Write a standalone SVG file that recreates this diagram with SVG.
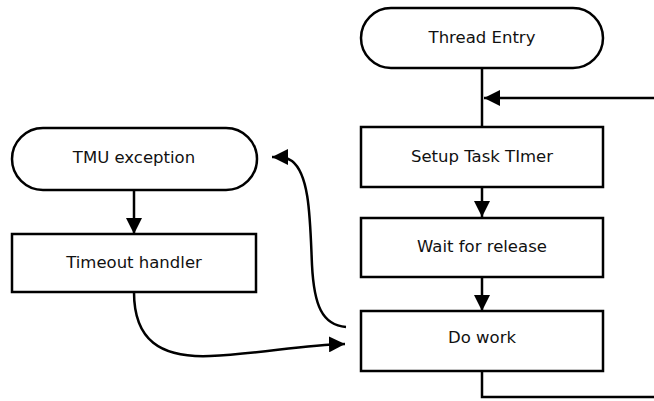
<svg xmlns="http://www.w3.org/2000/svg" width="654" height="401" viewBox="0 0 654 401">
<style>
.n{fill:#fff;stroke:#000;stroke-width:2.5}
.t{font-family:"DejaVu Sans",sans-serif;font-size:16.5px;fill:#111;text-anchor:middle;dominant-baseline:central}
.c{fill:none;stroke:#000;stroke-width:2.5}
</style>
<defs>
<marker id="b" viewBox="0 0 10 10" markerWidth="16" markerHeight="16" refX="10" refY="5" orient="auto" markerUnits="userSpaceOnUse">
<path d="M0,0 L10,5 L0,10 Z" fill="#000"/>
</marker>
</defs>
<g id="connectors">
<path class="c" d="M482,68 V127"/>
<path class="c" d="M654,98 H484" marker-end="url(#b)"/>
<path class="c" d="M482,187 V217" marker-end="url(#b)"/>
<path class="c" d="M482,277 V311" marker-end="url(#b)"/>
<path class="c" d="M134,190 V234" marker-end="url(#b)"/>
<path class="c" d="M482,371 V397 H656"/>
<path class="c" d="M346,327 C 322,325 314,305 312,265 C 310,220 310,175 292,161 C 286,157 282,157 272,157" marker-end="url(#b)"/>
<path class="c" d="M134,292 C 134,340 160,358 210,356 C 260,354 300,345 345,344" marker-end="url(#b)"/>
</g>
<g id="thread-entry"><rect class="n" x="361" y="8" width="242" height="60" rx="30"/><text class="t" x="482" y="37">Thread Entry</text></g>
<g id="setup-task-timer"><rect class="n" x="361" y="127" width="242" height="60"/><text class="t" x="482" y="156">Setup Task TImer</text></g>
<g id="wait-for-release"><rect class="n" x="361" y="218" width="242" height="59"/><text class="t" x="482" y="246">Wait for release</text></g>
<g id="do-work"><rect class="n" x="361" y="311" width="242" height="60"/><text class="t" x="482" y="337">Do work</text></g>
<g id="tmu-exception"><rect class="n" x="12" y="128" width="245" height="62" rx="31"/><text class="t" x="134" y="157">TMU exception</text></g>
<g id="timeout-handler"><rect class="n" x="12" y="234" width="244" height="58"/><text class="t" x="134" y="262">Timeout handler</text></g>
</svg>
